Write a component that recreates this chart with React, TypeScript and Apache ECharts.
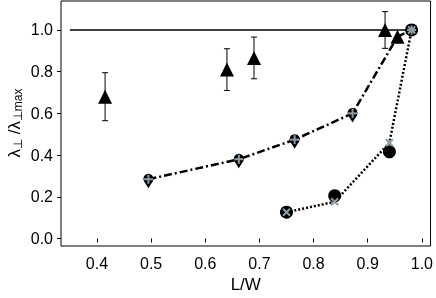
import React, { useEffect, useRef } from "react";
import * as echarts from "echarts";

// Triangles with error bars
const triX = [0.415, 0.64, 0.69, 0.932, 0.955];
const triY = [0.68, 0.81, 0.866, 1.0, 0.968];
const triErr = [0.115, 0.1, 0.1, 0.088, 0];

// Dash-dot series (black drops with gray plus)
const ddX = [0.495, 0.662, 0.765, 0.872, 0.955, 0.981];
const ddY = [0.284, 0.38, 0.474, 0.6, 0.968, 1.0];

// Dotted series (gray crosses)
const dotX = [0.75, 0.839, 0.94, 0.981];
const dotY = [0.126, 0.176, 0.459, 1.0];

// Black circles
const circX = [0.75, 0.839, 0.94, 0.981];
const circY = [0.126, 0.205, 0.416, 1.0];

// Reference line
const refX = [0.35, 0.98];
const refY = [1.0, 1.0];

const xTicks = [0.4, 0.5, 0.6, 0.7, 0.8, 0.9, 1.0];
const yTicks = [0.0, 0.2, 0.4, 0.6, 0.8, 1.0];

const GRAY = "#8d9ea8";
const FONT = "Liberation Sans";

export default function App() {
  const ref = useRef<HTMLDivElement>(null);
  useEffect(() => {
    if (!ref.current) return;
    const chart = echarts.init(ref.current, null, { renderer: "svg" });
    const zip = (xs: number[], ys: number[]) => xs.map((x, i) => [x, ys[i]]);
    const markerItem = (kind: "plus" | "cross") => (params: any, api: any) => {
      const p = api.coord([api.value(0), api.value(1)]);
      const r = kind === "plus" ? 4.5 : 3.5;
      const lines =
        kind === "plus"
          ? [
              [p[0] - r, p[1], p[0] + r, p[1]],
              [p[0], p[1] - r, p[0], p[1] + r],
            ]
          : [
              [p[0] - r, p[1] - r, p[0] + r, p[1] + r],
              [p[0] - r, p[1] + r, p[0] + r, p[1] - r],
            ];
      return {
        type: "group",
        children: lines.map((l) => ({
          type: "line",
          shape: { x1: l[0], y1: l[1], x2: l[2], y2: l[3] },
          style: { stroke: GRAY, lineWidth: 2 },
        })),
      };
    };
    const plusPts = zip(ddX, ddY).filter((_, i) => i !== 4);
    chart.setOption({
      animation: false,
      grid: {
        left: 61,
        top: 1,
        right: 5,
        bottom: 52,
        show: true,
        borderColor: "#000",
        borderWidth: 1,
      },
      xAxis: {
        type: "value",
        min: 0.3336,
        max: 1.016,
        axisLine: { show: false },
        splitLine: { show: false },
        axisTick: {
          show: true,
          customValues: xTicks,
          length: 4,
          lineStyle: { color: "#000" },
        },
        axisLabel: {
          customValues: xTicks,
          formatter: (v: number) => v.toFixed(1),
          fontSize: 16,
          fontFamily: FONT,
          color: "#000",
          margin: 9,
        },
        name: "L/W",
        nameLocation: "middle",
        nameGap: 28,
        nameTextStyle: { fontSize: 17, fontFamily: FONT, color: "#000" },
      },
      yAxis: {
        type: "value",
        min: -0.036,
        max: 1.139,
        axisLine: { show: false },
        splitLine: { show: false },
        axisTick: {
          show: true,
          customValues: yTicks,
          length: 4,
          lineStyle: { color: "#000" },
        },
        axisLabel: {
          customValues: yTicks,
          formatter: (v: number) => v.toFixed(1),
          fontSize: 16,
          fontFamily: FONT,
          color: "#000",
          margin: 8,
        },
      },
      graphic: [
        {
          type: "text",
          x: 14,
          y: 123,
          rotation: Math.PI / 2,
          style: {
            text: "{a|λ}{s|⊥}{a| /λ}{s|⊥max}",
            align: "center",
            verticalAlign: "middle",
            rich: {
              a: { fontSize: 17, fontFamily: FONT, fill: "#000", lineHeight: 20, verticalAlign: "middle" },
              s: { fontSize: 12, fontFamily: FONT, fill: "#000", lineHeight: 20, verticalAlign: "bottom", padding: [8, 0, 0, 0] },
            },
          },
        },
      ],
      series: [
        {
          type: "line",
          data: zip(refX, refY),
          showSymbol: false,
          lineStyle: { color: "#000", width: 1.5 },
          z: 2,
        },
        {
          type: "line",
          data: zip(ddX, ddY),
          showSymbol: false,
          lineStyle: { color: "#000", width: 2.5, type: [8, 3, 2, 3] },
          z: 2,
        },
        {
          type: "line",
          data: zip(dotX, dotY),
          showSymbol: false,
          lineStyle: { color: "#000", width: 2.5, type: [2, 2] },
          z: 2,
        },
        {
          type: "custom",
          data: triX.map((x, i) => [x, triY[i] - triErr[i], triY[i] + triErr[i]]),
          renderItem: (params: any, api: any) => {
            const x = api.value(0);
            const lo = api.coord([x, api.value(1)]);
            const hi = api.coord([x, api.value(2)]);
            if (Math.abs(lo[1] - hi[1]) < 1) return { type: "group", children: [] };
            const w = 3;
            const st = { stroke: "#000", lineWidth: 1 };
            return {
              type: "group",
              children: [
                { type: "line", shape: { x1: lo[0], y1: lo[1], x2: hi[0], y2: hi[1] }, style: st },
                { type: "line", shape: { x1: lo[0] - w, y1: lo[1], x2: lo[0] + w, y2: lo[1] }, style: st },
                { type: "line", shape: { x1: hi[0] - w, y1: hi[1], x2: hi[0] + w, y2: hi[1] }, style: st },
              ],
            };
          },
          z: 3,
        },
        {
          type: "scatter",
          data: zip(triX, triY),
          symbol: "triangle",
          symbolSize: 14,
          itemStyle: { color: "#000", opacity: 1 },
          z: 4,
        },
        {
          type: "custom",
          data: zip(ddX.slice(0, 4), ddY.slice(0, 4)),
          renderItem: (params: any, api: any) => {
            const p = api.coord([api.value(0), api.value(1)]);
            return {
              type: "group",
              children: [
                { type: "circle", shape: { cx: p[0], cy: p[1] - 0.5, r: 5 }, style: { fill: "#000" } },
                {
                  type: "polygon",
                  shape: { points: [[p[0] - 4.6, p[1] + 1.5], [p[0] + 4.6, p[1] + 1.5], [p[0], p[1] + 9]] },
                  style: { fill: "#000" },
                },
              ],
            };
          },
          z: 4,
        },
        {
          type: "scatter",
          data: zip(circX, circY),
          symbol: "circle",
          symbolSize: 13,
          itemStyle: { color: "#000", opacity: 1 },
          z: 4,
        },
        {
          type: "custom",
          data: plusPts,
          renderItem: markerItem("plus"),
          z: 5,
        },
        {
          type: "custom",
          data: zip(dotX, dotY),
          renderItem: markerItem("cross"),
          z: 5,
        },
      ],
    });
    return () => chart.dispose();
  }, []);
  return <div ref={ref} style={{ position: "fixed", left: 0, top: 0, width: 436, height: 298 }} />;
}
